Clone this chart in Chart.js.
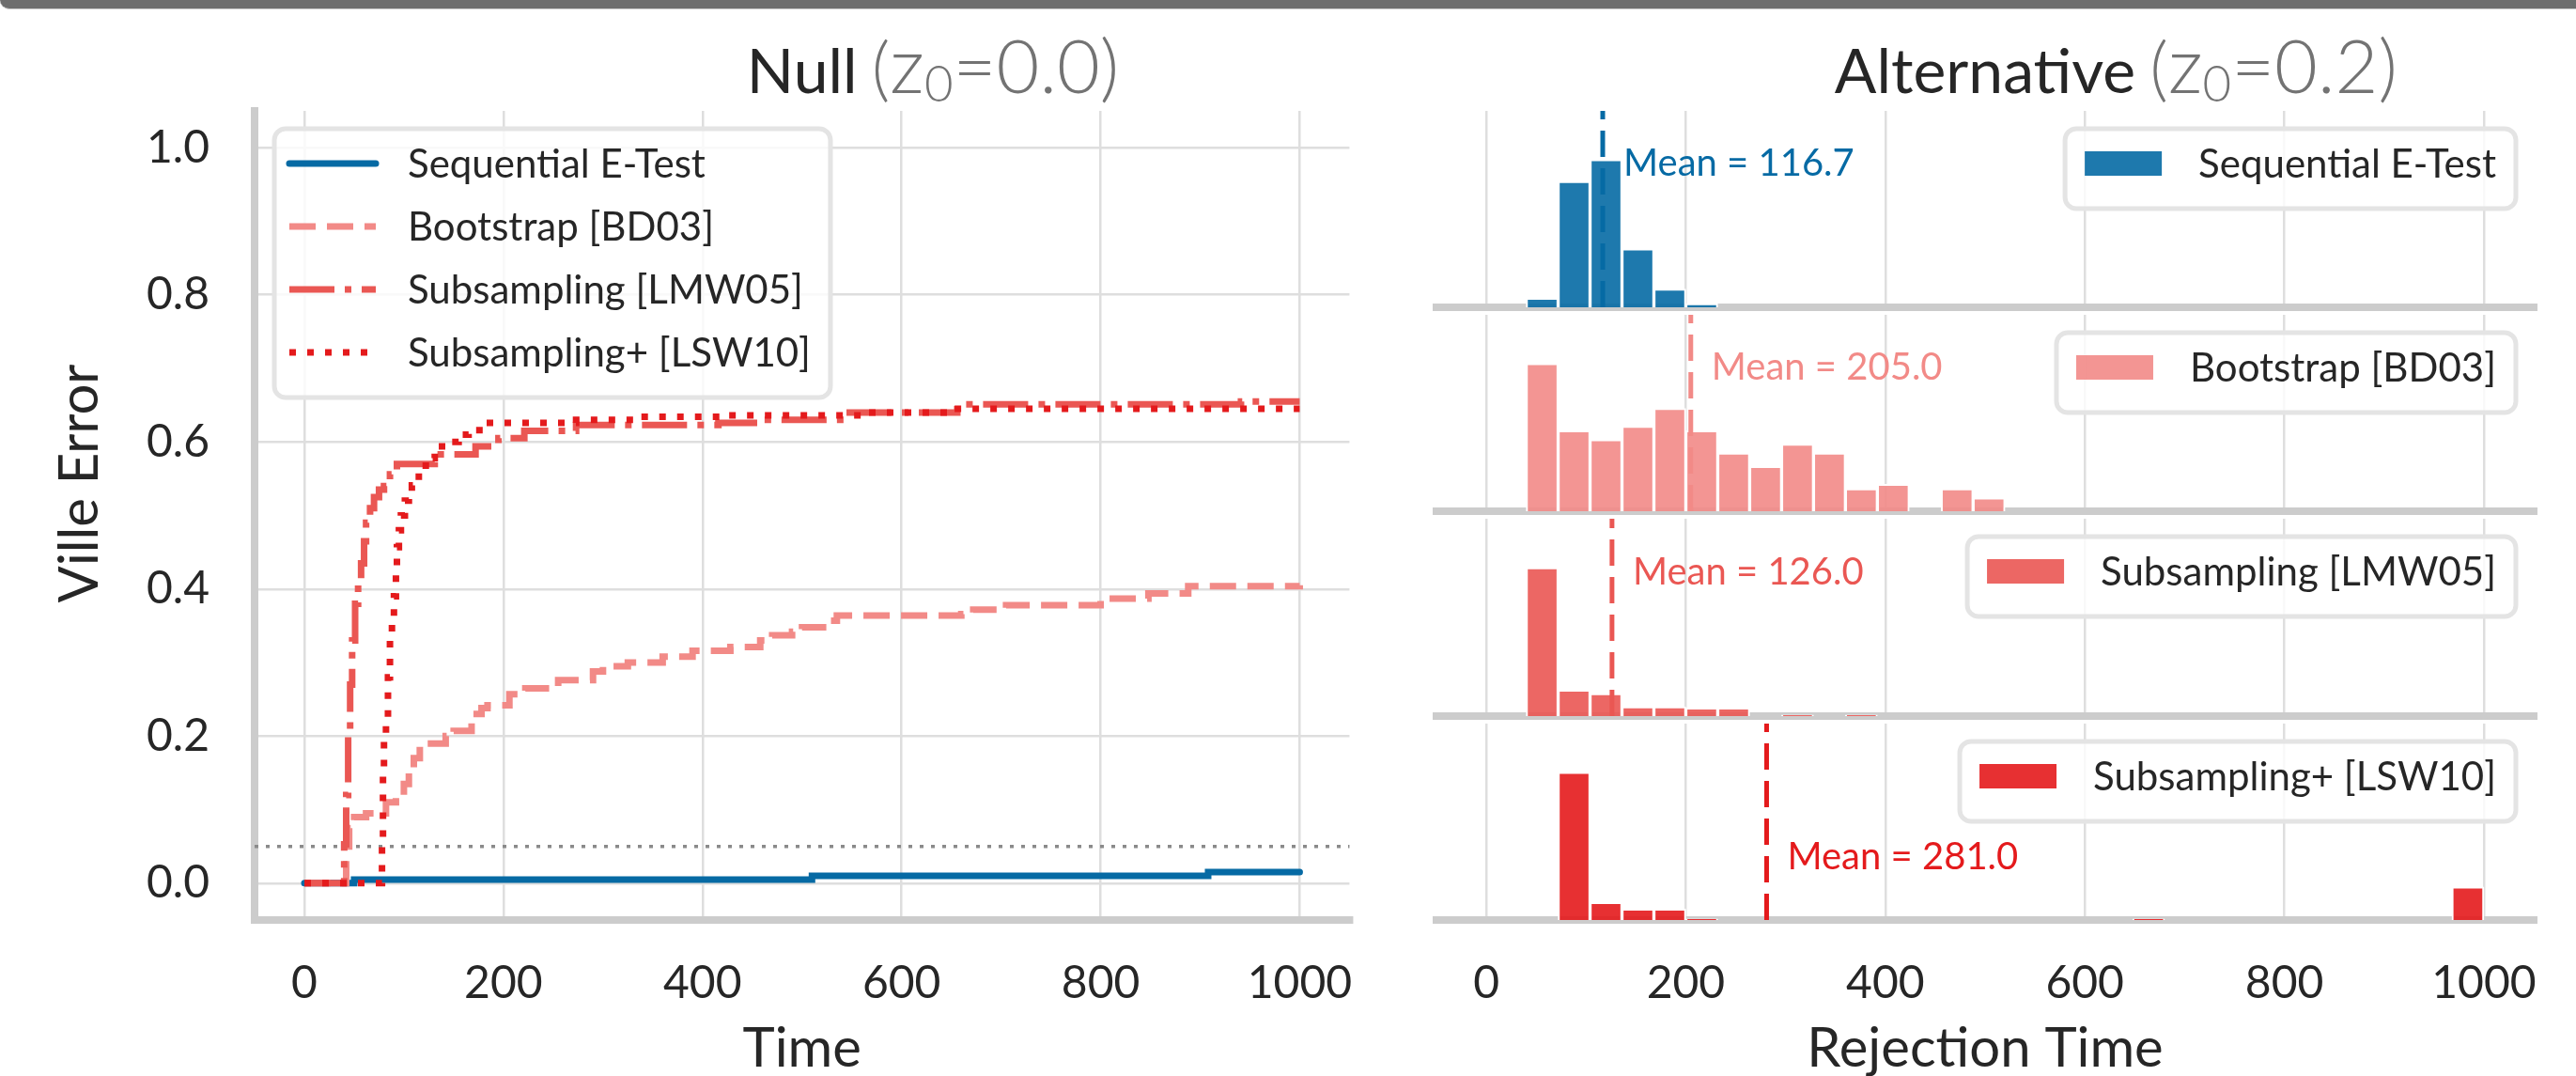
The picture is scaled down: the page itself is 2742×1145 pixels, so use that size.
<!DOCTYPE html>
<html>
<head>
<meta charset="utf-8">
<script src="https://cdn.jsdelivr.net/npm/chart.js@4.4.1/dist/chart.umd.min.js"></script>
<style>
html,body{margin:0;padding:0;background:#ffffff;width:2742px;height:1145px;overflow:hidden;}
#topbar{position:absolute;left:0;top:0;width:2742px;height:9px;background:#6e6e6e;border-bottom-left-radius:16px;border-bottom:1px solid #c9c9c9;}
canvas{position:absolute;}
</style>
</head>
<body>
<div id="topbar"></div>
<canvas id="nullChart"></canvas>
<canvas id="alt0"></canvas>
<canvas id="alt1"></canvas>
<canvas id="alt2"></canvas>
<canvas id="alt3"></canvas>
<script>
// ---------------- DATA ----------------
const seriesNames = ['Sequential E-Test', 'Bootstrap [BD03]', 'Subsampling [LMW05]', 'Subsampling+ [LSW10]'];

// Left panel: Ville error over time (step curves)
const seqTimes  = [0, 50, 510, 908, 1000];
const seqError  = [0, 0.005, 0.010, 0.015, 0.015];

const bootTimes = [0, 42, 45, 50, 62, 82, 92, 100, 105, 110, 116, 142, 150, 168, 178, 184, 206, 222, 255, 290, 300, 325, 360, 390, 428, 458, 470, 490, 500, 525, 535, 660, 672, 705, 800, 848, 888, 1000];
const bootError = [0, 0.05, 0.075, 0.09, 0.095, 0.11, 0.12, 0.135, 0.155, 0.17, 0.19, 0.2, 0.207, 0.23, 0.238, 0.242, 0.257, 0.265, 0.276, 0.288, 0.295, 0.3, 0.308, 0.316, 0.321, 0.33, 0.337, 0.342, 0.348, 0.357, 0.364, 0.366, 0.372, 0.378, 0.387, 0.394, 0.404, 0.405];

const lmwTimes  = [0, 40, 42, 44, 46, 48, 51, 54, 57, 60, 62, 66, 70, 75, 80, 86, 93, 131, 172, 195, 221, 273, 416, 461, 544, 656, 941, 1000];
const lmwError  = [0, 0.053, 0.12, 0.2, 0.27, 0.33, 0.38, 0.41, 0.435, 0.465, 0.49, 0.51, 0.525, 0.535, 0.54, 0.556, 0.57, 0.583, 0.594, 0.605, 0.615, 0.623, 0.626, 0.63, 0.64, 0.651, 0.655, 0.655];

const lswTimes  = [0, 78, 79, 80, 82, 84, 86, 88, 90, 92, 93, 95, 97, 101, 105, 108, 115, 122, 131, 142, 155, 165, 180, 273, 333, 424, 559, 649, 1000];
const lswError  = [0, 0.05, 0.15, 0.2, 0.22, 0.28, 0.33, 0.36, 0.39, 0.43, 0.457, 0.48, 0.5, 0.52, 0.53, 0.541, 0.56, 0.578, 0.594, 0.6, 0.61, 0.616, 0.626, 0.63, 0.634, 0.636, 0.64, 0.645, 0.645];

const alphaLevel = 0.05;
const xTicks = [0, 200, 400, 600, 800, 1000];
const yTicks = [0.0, 0.2, 0.4, 0.6, 0.8, 1.0];

// Right panels: rejection-time histograms (shared bins)
const binEdges = [40, 72, 104, 136, 168, 200, 232, 264, 296, 328, 360, 392, 424, 456, 488, 520, 552, 584, 616, 648, 680, 712, 744, 776, 808, 840, 872, 904, 936, 968, 1000];
const seqCounts  = [5, 69, 81, 32, 10, 2, 0, 0, 0, 0, 0, 0, 0, 0, 0, 0, 0, 0, 0, 0, 0, 0, 0, 0, 0, 0, 0, 0, 0, 0];
const bootCounts = [33, 18, 16, 19, 23, 18, 13, 10, 15, 13, 5, 6, 0, 5, 3, 0, 0, 0, 0, 0, 0, 0, 0, 0, 0, 0, 0, 0, 0, 0];
const lmwCounts  = [126, 22, 19, 8, 8, 7, 7, 0, 1, 0, 1, 0, 0, 0, 0, 0, 0, 0, 0, 0, 0, 0, 0, 0, 0, 0, 0, 0, 0, 0];
const lswCounts  = [0, 134, 16, 10, 10, 1, 0, 0, 0, 0, 0, 0, 0, 0, 0, 0, 0, 0, 0, 1, 0, 0, 0, 0, 0, 0, 0, 0, 0, 30];
const meanRejection = [116.7, 205.0, 126.0, 281.0];

// ---------------- STYLE ----------------
const FONT = 'Lato';
const WEIGHT = 400;
const TITLE_WEIGHT = 400;
const SUB_WEIGHT = 300;
const textColor = '#262626';
const gridColor = '#dedede';
const spineColor = '#cccccc';
const lineColors = ['#066aa4', '#f28a87', '#ea5753', '#e41a1c'];
const barColors  = ['rgba(6,106,164,0.9)', 'rgba(242,138,135,0.9)', 'rgba(234,87,83,0.9)', 'rgba(228,26,28,0.9)'];
const lineDashes = [[], [28, 12], [48, 11, 7, 11], [7, 12]];
const lineCaps   = ['round', 'butt', 'butt', 'butt'];
const histCounts = [seqCounts, bootCounts, lmwCounts, lswCounts];
const meanLabelFrac = [0.73, 0.73, 0.73, 0.32];
const yHeadroom = 1.33;

Chart.defaults.font.family = FONT;
Chart.defaults.font.weight = WEIGHT;
Chart.defaults.color = textColor;

// ---------------- PLUGINS ----------------
const spinesPlugin = {
  id: 'spines',
  beforeDatasetsDraw(chart, args, o) {
    const {ctx, chartArea: ca} = chart;
    ctx.save();
    ctx.strokeStyle = spineColor; ctx.lineWidth = 8; ctx.lineCap = 'square';
    ctx.beginPath();
    if (o.left) { ctx.moveTo(ca.left, ca.top); ctx.lineTo(ca.left, ca.bottom); }
    ctx.moveTo(ca.left, ca.bottom); ctx.lineTo(ca.right, ca.bottom);
    ctx.stroke();
    ctx.restore();
  }
};

const refLinePlugin = {
  id: 'refLine',
  beforeDatasetsDraw(chart, args, o) {
    if (o.value === undefined) return;
    const {ctx, chartArea: ca, scales} = chart;
    const y = scales.y.getPixelForValue(o.value);
    ctx.save();
    ctx.strokeStyle = '#8a8a8a'; ctx.lineWidth = 3.5; ctx.setLineDash([4, 8]);
    ctx.beginPath(); ctx.moveTo(ca.left, y); ctx.lineTo(ca.right, y); ctx.stroke();
    ctx.restore();
  }
};

// y-axis label, drawn rotated (matplotlib places it slightly above the axis centre)
const yLabelPlugin = {
  id: 'yLabel',
  afterDraw(chart, args, o) {
    if (!o.text) return;
    const {ctx, chartArea: ca} = chart;
    ctx.save();
    ctx.translate(o.x, (ca.top + ca.bottom) / 2 + o.dy);
    ctx.rotate(-Math.PI / 2);
    ctx.font = `${WEIGHT} ${o.size}px ${FONT}`;
    ctx.fillStyle = textColor; ctx.textAlign = 'center'; ctx.textBaseline = 'middle';
    ctx.fillText(o.text, 0, 0);
    ctx.restore();
  }
};

const titlePlugin = {
  id: 'panelTitle',
  afterDraw(chart, args, o) {
    if (!o.main) return;
    const {ctx, chartArea: ca} = chart;
    const cx = (ca.left + ca.right) / 2;
    ctx.save();
    ctx.textBaseline = 'alphabetic'; ctx.textAlign = 'left';
    ctx.font = `${TITLE_WEIGHT} ${o.size}px ${FONT}`;
    const w = ctx.measureText(o.main).width;
    let x = cx - w / 2;
    ctx.fillStyle = textColor;
    ctx.fillText(o.main, x, o.baseline);
    x += w + ctx.measureText(' ').width * 0.9;
    ctx.fillStyle = '#737373';
    for (const p of o.parts) {
      ctx.font = `${SUB_WEIGHT} ${o.size * p.scale}px ${FONT}`;
      ctx.fillText(p.text, x, o.baseline + p.dy);
      x += ctx.measureText(p.text).width;
    }
    ctx.restore();
  }
};

const frameLegendPlugin = {
  id: 'frameLegend',
  afterDatasetsDraw(chart, args, o) {
    if (!o.show) return;
    const {ctx, chartArea: ca} = chart;
    const dsets = chart.data.datasets;
    ctx.save();
    ctx.font = `${WEIGHT} 42px ${FONT}`;
    const tw = Math.max(...dsets.map(d => ctx.measureText(d.label).width));
    const rowH = 67;
    const padL = o.kind === 'line' ? 16 : 21;
    const sampleW = o.kind === 'line' ? 92 : 82;
    const gap = o.kind === 'line' ? 34 : 39;
    const padR = 21;
    const bw = padL + sampleW + gap + tw + padR;
    const bh = dsets.length * rowH + 18;
    const bx = o.anchor === 'left' ? ca.left + 21 : ca.right - 19 - bw;
    const by = ca.top + 19;
    ctx.beginPath(); ctx.roundRect(bx, by, bw, bh, 12);
    ctx.fillStyle = 'rgba(255,255,255,0.8)'; ctx.fill();
    ctx.lineWidth = 5; ctx.strokeStyle = '#e4e4e4'; ctx.stroke();
    dsets.forEach((d, i) => {
      const cy = by + 37 + i * rowH;
      const sx = bx + padL;
      if (o.kind === 'line') {
        ctx.save();
        ctx.strokeStyle = d.borderColor; ctx.lineWidth = d.borderWidth;
        ctx.setLineDash(d.borderDash || []); ctx.lineCap = d.borderCapStyle || 'butt';
        ctx.beginPath(); ctx.moveTo(sx, cy); ctx.lineTo(sx + sampleW, cy); ctx.stroke();
        ctx.restore();
      } else {
        ctx.fillStyle = d.backgroundColor;
        ctx.fillRect(sx, cy - 13, sampleW, 26);
      }
      ctx.fillStyle = textColor; ctx.textBaseline = 'middle'; ctx.textAlign = 'left';
      ctx.fillText(d.label, sx + sampleW + gap, cy + 1);
    });
    ctx.restore();
  }
};

const meanLinePlugin = {
  id: 'meanLine',
  afterDatasetsDraw(chart, args, o) {
    if (o.value === undefined) return;
    const {ctx, chartArea: ca, scales} = chart;
    const x = scales.x.getPixelForValue(o.value);
    ctx.save();
    ctx.strokeStyle = o.color; ctx.lineWidth = 5; ctx.setLineDash([28, 12]);
    ctx.beginPath(); ctx.moveTo(x, ca.bottom); ctx.lineTo(x, ca.top); ctx.stroke();
    ctx.setLineDash([]);
    ctx.font = `${WEIGHT} 40px ${FONT}`; ctx.fillStyle = o.color;
    ctx.textBaseline = 'middle'; ctx.textAlign = 'left';
    const y = scales.y.getPixelForValue(scales.y.max * o.frac);
    ctx.fillText('Mean = ' + o.value.toFixed(1), x + 22, y);
    ctx.restore();
  }
};

const titleParts = zText => [
  {text: '(', scale: 1.15, dy: 0},
  {text: 'z', scale: 1.25, dy: 0},
  {text: '0', scale: 0.8, dy: 9},
  {text: zText + ')', scale: 1.2, dy: 0}
];

// ---------------- LEFT: NULL ----------------
const leftSeries = [[seqTimes, seqError], [bootTimes, bootError], [lmwTimes, lmwError], [lswTimes, lswError]];
const leftCanvas = document.getElementById('nullChart');
leftCanvas.width = 1480; leftCanvas.height = 1145;
leftCanvas.style.left = '0px'; leftCanvas.style.top = '0px';

new Chart(leftCanvas, {
  type: 'line',
  data: {
    datasets: leftSeries.map(([t, v], i) => ({
      label: seriesNames[i],
      data: t.map((tt, k) => ({x: tt, y: v[k]})),
      borderColor: lineColors[i],
      borderWidth: 7,
      borderDash: lineDashes[i],
      borderCapStyle: lineCaps[i],
      borderJoinStyle: 'miter',
      stepped: 'before',
      pointRadius: 0,
      fill: false,
      order: 3 - i
    }))
  },
  options: {
    responsive: false, animation: false, devicePixelRatio: 1,
    layout: {padding: {left: 0, top: 118, right: 41, bottom: 0}},
    scales: {
      x: {
        type: 'linear', min: -50, max: 1050, offset: false,
        afterBuildTicks: s => { s.ticks = xTicks.map(v => ({value: v})); },
        afterFit: s => { s.height = 166; },
        grid: {color: gridColor, lineWidth: 2.5, drawTicks: false, offset: false},
        border: {display: false},
        ticks: {padding: 39, font: {size: 48}, color: textColor, maxRotation: 0, autoSkip: false, callback: v => String(v)},
        title: {display: true, text: 'Time', color: textColor, font: {size: 58, lineHeight: 1}, padding: {top: 0, bottom: 0}}
      },
      y: {
        type: 'linear', min: -0.05, max: 1.05,
        afterBuildTicks: s => { s.ticks = yTicks.map(v => ({value: v})); },
        afterFit: s => { s.width = 271; },
        grid: {color: gridColor, lineWidth: 2.5, drawTicks: false},
        border: {display: false},
        ticks: {padding: 48, font: {size: 48}, color: textColor, autoSkip: false, callback: v => v.toFixed(1)},
        title: {display: false}
      }
    },
    plugins: {
      legend: {display: false}, tooltip: {enabled: false},
      spines: {left: true},
      refLine: {value: alphaLevel},
      yLabel: {text: 'Ville Error', size: 58, x: 85, dy: -34},
      panelTitle: {main: 'Null', size: 66, baseline: 99, parts: titleParts('=0.0')},
      frameLegend: {show: true, kind: 'line', anchor: 'left'}
    }
  },
  plugins: [spinesPlugin, refLinePlugin, yLabelPlugin, titlePlugin, frameLegendPlugin]
});

// ---------------- RIGHT: ALTERNATIVE ----------------
const panelTops = [118, 335, 552, 770];
const panelBottoms = [327, 544, 762, 979];
const binCenters = binEdges.slice(0, -1).map((e, k) => (e + binEdges[k + 1]) / 2);

histCounts.forEach((counts, i) => {
  const cv = document.getElementById('alt' + i);
  const cTop = i === 0 ? 0 : panelTops[i];
  const cBottom = i === 3 ? 1145 : panelBottoms[i] + 4;
  cv.width = 1262; cv.height = cBottom - cTop;
  cv.style.left = '1480px'; cv.style.top = cTop + 'px';
  const isLast = i === 3;
  const xh = cBottom - panelBottoms[i];
  new Chart(cv, {
    type: 'bar',
    data: {
      datasets: [{
        label: seriesNames[i],
        data: binCenters.map((c, k) => ({x: c, y: counts[k] > 0 ? counts[k] : null})),
        backgroundColor: barColors[i],
        borderColor: '#ffffff', borderWidth: 2, borderSkipped: 'start',
        barPercentage: 1, categoryPercentage: 1, grouped: false
      }]
    },
    options: {
      responsive: false, animation: false, devicePixelRatio: 1,
      layout: {padding: {left: 49, top: panelTops[i] - cTop, right: 45, bottom: 0}},
      scales: {
        x: {
          type: 'linear', min: -50, max: 1050, offset: false,
          afterBuildTicks: s => { s.ticks = xTicks.map(v => ({value: v})); },
          afterFit: s => { s.height = xh; },
          grid: {color: gridColor, lineWidth: 2.5, drawTicks: false, offset: false},
          border: {display: false},
          ticks: {display: isLast, padding: 39, font: {size: 48}, color: textColor, maxRotation: 0, autoSkip: false, callback: v => String(v)},
          title: {display: isLast, text: 'Rejection Time', color: textColor, font: {size: 58, lineHeight: 1}, padding: {top: 0, bottom: 0}}
        },
        y: {display: false, min: 0, max: Math.max(...counts) * yHeadroom}
      },
      plugins: {
        legend: {display: false}, tooltip: {enabled: false},
        spines: {left: false},
        meanLine: {value: meanRejection[i], color: lineColors[i], frac: meanLabelFrac[i]},
        panelTitle: i === 0 ? {main: 'Alternative', size: 66, baseline: 99, parts: titleParts('=0.2')} : {},
        frameLegend: {show: true, kind: 'box', anchor: 'right'}
      }
    },
    plugins: [spinesPlugin, meanLinePlugin, titlePlugin, frameLegendPlugin]
  });
});
</script>
</body>
</html>
